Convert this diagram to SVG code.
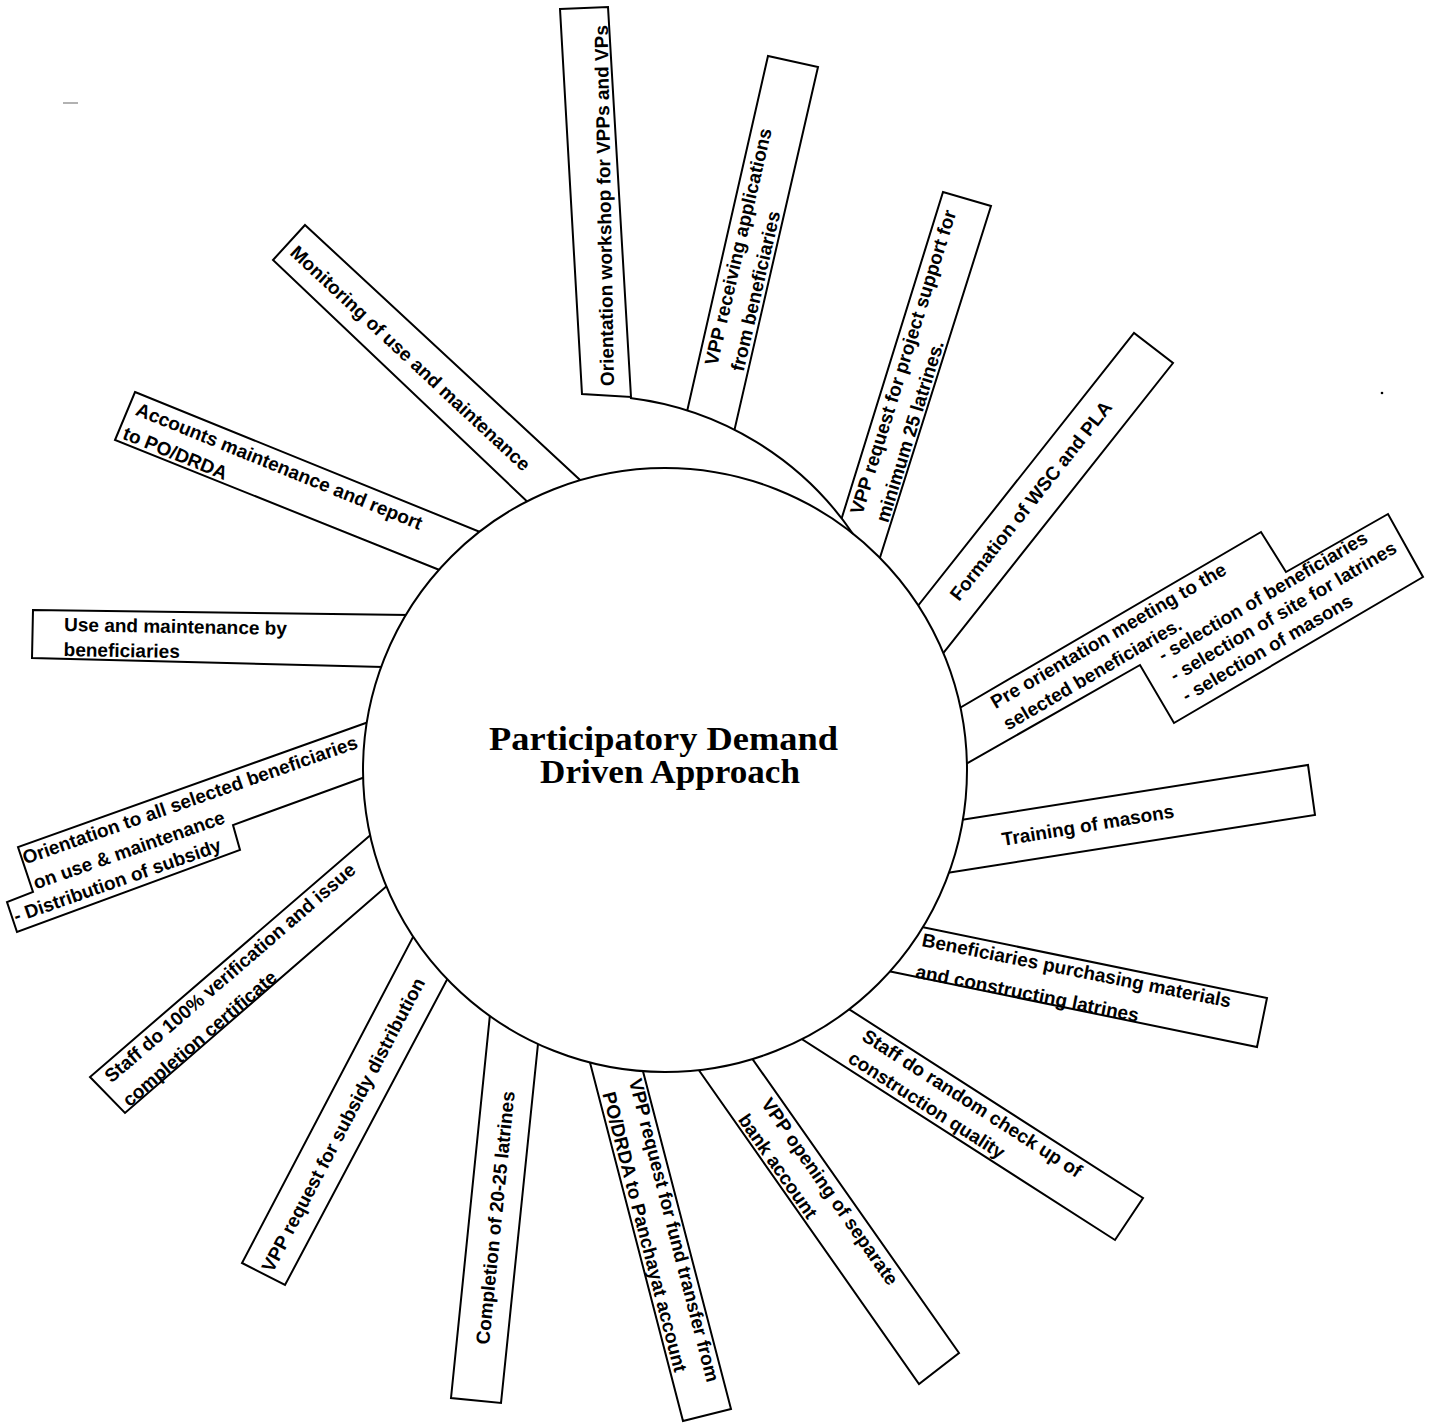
<svg xmlns="http://www.w3.org/2000/svg" width="1431" height="1424" viewBox="0 0 1431 1424">
<defs>
<style>
.b{fill:#fff;stroke:#000;stroke-width:2;stroke-linejoin:miter}
.t{font-family:"Liberation Sans",Arial,sans-serif;font-size:19px;font-weight:bold;fill:#000}
.ring{fill:none;stroke:#000;stroke-width:2}
.title{font-family:"Liberation Serif","Times New Roman",serif;font-size:33px;font-weight:bold;fill:#000}
</style>
<clipPath id="outC1"><path clip-rule="evenodd" d="M0,0H1431V1424H0Z M363,770a302,302 0 1,0 604,0a302,302 0 1,0 -604,0Z"/></clipPath>
<clipPath id="outC2"><path clip-rule="evenodd" d="M0,0H1431V1424H0Z M276,712a316,316 0 1,0 632,0a316,316 0 1,0 -632,0Z"/></clipPath>
</defs>
<rect x="0" y="0" width="1431" height="1424" fill="#fff"/>

<g id="n1">
<polygon class="b" points="560,9 608,7 631,397 582,394"/>
<text class="t" transform="translate(614,386) rotate(-91)">Orientation workshop for VPPs and VPs</text>
</g>

<g id="n2">
<g clip-path="url(#outC1)"><polygon class="b" clip-path="url(#outC2)" points="681,438 768,56 818,67 728,458"/></g>
<text class="t" transform="translate(717.2,366.2) rotate(-77)"><tspan x="0" y="0">VPP receiving applications</tspan><tspan x="0" y="27">from beneficiaries</tspan></text>
</g>

<g id="n3">
<g clip-path="url(#outC1)"><polygon class="b" clip-path="url(#outC2)" points="834,543 943,192 991,206 871,586"/></g>
<text class="t" transform="translate(862.3,515.6) rotate(-72.75)"><tspan x="0" y="0">VPP request for project support for</tspan><tspan x="0" y="27">minimum 25 latrines.</tspan></text>
</g>

<g id="n4">
<polygon class="b" clip-path="url(#outC1)" points="898,631 1134,333 1173,363 921.5,680.5"/>
<text class="t" transform="translate(959,602) rotate(-51.6)">Formation of WSC and PLA</text>
</g>

<g id="n5">
<polygon class="b" clip-path="url(#outC1)" points="925.5,728 1261,532 1286,572 1388,514 1423,577 1174,723 1140,665 929,785"/>
<text class="t" transform="translate(995.5,709.2) rotate(-30.3)"><tspan x="0" y="0">Pre orientation meeting to the</tspan><tspan x="0" y="25">selected beneficiaries.</tspan></text>
<text class="t" transform="translate(1163,662) rotate(-30.3)"><tspan x="0" y="0">- selection of beneficiaries</tspan><tspan x="0" y="23.5">- selection of site for latrines</tspan><tspan x="0" y="47">- selection of masons</tspan></text>
</g>

<g id="n6">
<polygon class="b" clip-path="url(#outC1)" points="922.5,826 1308,765 1315,815 908.5,879"/>
<text class="t" transform="translate(1003,846) rotate(-9.5)">Training of masons</text>
</g>

<g id="n7">
<polygon class="b" clip-path="url(#outC1)" points="883,919 1267,998 1257,1047 854,964"/>
<text class="t" transform="translate(921,946) rotate(11.3)"><tspan x="0" y="0">Beneficiaries purchasing materials</tspan><tspan x="0" y="32">and constructing latrines</tspan></text>
</g>

<g id="n8">
<polygon class="b" clip-path="url(#outC1)" points="816,988 1143,1198 1115,1240 769,1018"/>
<text class="t" transform="translate(860.8,1039.5) rotate(32.7)"><tspan x="0" y="0">Staff do random check up of</tspan><tspan x="0" y="26">construction quality</tspan></text>
</g>

<g id="n9">
<polygon class="b" clip-path="url(#outC1)" points="677,1039 919,1384 959,1353 730,1027"/>
<text class="t" transform="translate(760.4,1103.7) rotate(55)"><tspan x="0" y="0">VPP opening of separate</tspan><tspan x="0" y="28">bank account</tspan></text>
</g>

<g id="n10">
<polygon class="b" clip-path="url(#outC1)" points="580,1024 683,1421 731,1409 633,1033"/>
<text class="t" transform="translate(628.8,1080.8) rotate(75.5)"><tspan x="0" y="0">VPP request for fund transfer from</tspan><tspan x="6" y="29">PO/DRDA to Panchayat account</tspan></text>
</g>

<g id="n11">
<polygon class="b" clip-path="url(#outC1)" points="494,975 451,1398 501,1403 542,1005"/>
<text class="t" transform="translate(489,1345) rotate(-84.2)">Completion of 20-25 latrines</text>
</g>

<g id="n12">
<polygon class="b" clip-path="url(#outC1)" points="431.6,901.6 242,1263 285,1285 465.6,944.6"/>
<text class="t" transform="translate(272.6,1273.5) rotate(-62.3)">VPP request for subsidy distribution</text>
</g>

<g id="n13">
<polygon class="b" clip-path="url(#outC1)" points="403,807 90,1077 125,1113 418,859"/>
<text class="t" transform="translate(111.5,1083.6) rotate(-40.8)"><tspan x="0" y="0">Staff do 100% verification and issue</tspan><tspan x="-2" y="30">completion certificate</tspan></text>
</g>

<g id="n14">
<polygon class="b" clip-path="url(#outC1)" points="405,709 18,847 33,892 7,902 17,932 240,850 233,825 401,764"/>
<text class="t" transform="translate(25.2,864.6) rotate(-19.3)"><tspan x="0" y="0">Orientation to all selected beneficiaries</tspan><tspan x="2" y="27">on use &amp; maintenance</tspan><tspan x="-27.6" y="52">- Distribution of subsidy</tspan></text>
</g>

<g id="n15">
<polygon class="b" clip-path="url(#outC1)" points="33,610 448,615.5 423,668 32,658"/>
<text class="t" transform="translate(64,631) rotate(1)"><tspan x="0" y="0">Use and maintenance by</tspan><tspan x="0" y="25">beneficiaries</tspan></text>
</g>

<g id="n16">
<polygon class="b" clip-path="url(#outC1)" points="135,392 517,547 477,585 115,440"/>
<text class="t" transform="translate(134.5,414.5) rotate(22.1)"><tspan x="0" y="0">Accounts maintenance and report</tspan><tspan x="-3" y="27">to PO/DRDA</tspan></text>
</g>

<g id="n17">
<polygon class="b" clip-path="url(#outC1)" points="305,225 607,505 554,527 273,260"/>
<text class="t" transform="translate(289,254) rotate(43)">Monitoring of use and maintenance</text>
</g>

<g id="connectors">
<path class="ring" d="M630,398 A316,316 0 0,1 853,534"/>
</g>

<g id="center">
<circle class="ring" cx="665" cy="770" r="302"/>
<text class="title" x="489" y="750" textLength="349" lengthAdjust="spacingAndGlyphs">Participatory Demand</text>
<text class="title" x="540" y="783" textLength="260" lengthAdjust="spacingAndGlyphs">Driven Approach</text>
</g>

<g id="marks">
<line x1="63" y1="103" x2="78" y2="103" stroke="#999" stroke-width="1.5"/>
<circle cx="1382" cy="393" r="1.3" fill="#000"/>
</g>
</svg>
